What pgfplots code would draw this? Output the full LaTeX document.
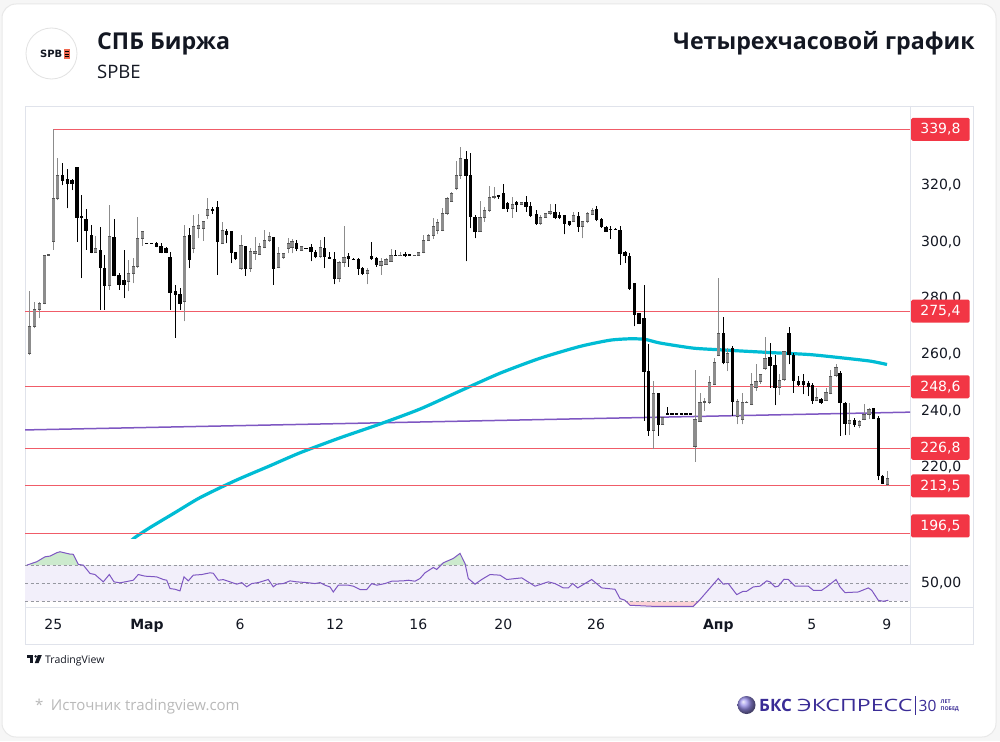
\documentclass[border=0pt]{standalone}
\usepackage{graphicx}
\usepackage{pgfplots}
\pgfplotsset{compat=1.18}
\usepackage{pgfplotstable}
\usepackage{fontspec}
\setmainfont{Open Sans}
\newfontfamily\axf{DejaVu Sans}
\definecolor{redlvl}{RGB}{242,54,69}
\definecolor{redline}{RGB}{240,92,104}
\definecolor{cyanma}{RGB}{0,188,212}
\definecolor{purp}{RGB}{126,87,194}
\definecolor{upc}{RGB}{140,140,140}
\definecolor{upd}{RGB}{85,85,85}
\definecolor{bandc}{RGB}{242,239,250}
\definecolor{gridd}{RGB}{150,152,160}
\definecolor{bks}{RGB}{58,44,150}
\definecolor{bksball}{RGB}{150,140,230}
\definecolor{txt}{RGB}{19,23,34}
\definecolor{panel}{RGB}{224,227,235}
\definecolor{tvc}{RGB}{19,23,34}
\definecolor{pagebg}{RGB}{246,246,246}
\definecolor{cardb}{RGB}{232,232,232}
\definecolor{logob}{RGB}{226,226,226}
\definecolor{logoo}{RGB}{240,105,80}
\definecolor{obfill}{RGB}{204,234,205}
\definecolor{osfill}{RGB}{252,210,214}
\definecolor{srcgray}{RGB}{185,185,185}

\pgfplotstableread{
x o h l c
29.7 260.5 282.4 259.8 270.0
34.7 270.0 278.5 269.3 276.0
39.3 276.0 278.8 272.9 278.2
44.3 278.1 295.4 277.8 295.3
48.3 295.3 295.5 295.2 295.4
53.3 300.0 339.8 297.1 315.3
57.7 315.3 329.7 314.7 323.6
62.7 323.8 328.0 320.0 321.8
67.7 322.1 325.9 311.8 320.6
72.0 321.8 322.4 318.3 320.6
77.0 326.5 326.5 300.0 308.5
81.3 309.2 316.5 287.1 308.5
86.0 308.2 311.6 297.1 304.1
91.3 302.4 305.9 295.9 296.2
95.3 296.2 302.1 296.2 297.6
100.3 297.1 305.3 275.9 290.8
104.7 290.8 295.3 275.9 284.4
109.7 284.4 313.0 283.0 301.8
114.0 301.8 308.2 287.7 288.0
119.0 288.3 288.8 283.0 284.7
124.0 286.5 297.1 280.0 284.7
128.7 286.1 293.6 282.4 288.8
133.3 288.8 294.1 285.3 291.2
137.7 291.2 308.8 290.6 301.2
142.3 301.2 303.8 298.6 303.5
146.7 299.5 299.6 299.2 299.4
151.3 299.5 299.6 299.2 299.4
156.7 299.4 300.0 298.0 298.4
161.0 298.4 299.4 295.9 296.2
166.0 297.9 298.2 295.9 296.2
170.0 294.7 296.5 275.9 282.1
175.3 282.4 284.7 265.9 281.4
180.0 281.4 283.5 275.9 278.2
184.3 278.8 306.1 271.8 301.8
189.3 302.4 305.0 290.6 293.6
193.7 297.6 309.4 295.9 305.3
198.3 304.7 310.0 301.2 305.7
203.3 304.7 307.3 300.3 307.1
207.7 309.4 315.5 308.0 311.6
212.7 311.6 312.4 310.0 311.1
217.3 312.4 314.5 288.3 300.0
222.3 299.4 307.1 299.4 304.1
226.3 303.8 304.5 299.4 302.6
231.3 303.8 303.8 292.4 296.2
235.7 296.2 296.2 293.6 294.1
241.0 290.6 302.4 290.0 298.6
245.7 298.6 298.6 288.0 290.6
250.3 290.6 297.9 289.4 296.5
255.0 295.9 301.5 293.6 296.5
259.3 295.5 299.4 295.5 298.2
264.3 297.9 304.1 297.6 300.6
269.3 300.6 303.5 300.0 301.8
273.7 301.8 301.8 284.7 290.4
278.7 290.8 298.2 290.6 295.9
283.3 294.4 295.8 293.9 295.8
288.3 297.6 301.2 295.9 299.4
292.0 298.0 301.0 295.9 300.0
296.7 299.4 300.6 296.7 297.6
301.7 297.1 298.2 297.1 298.2
306.0 297.7 297.8 297.4 297.6
311.0 298.2 299.1 293.0 296.5
315.7 296.5 297.1 294.1 294.7
320.3 294.7 300.6 294.4 297.9
324.3 297.9 301.8 290.6 294.7
329.3 294.7 296.5 293.9 294.1
334.3 293.8 296.5 284.9 287.1
339.0 287.1 293.2 285.6 292.7
344.0 292.7 305.4 291.2 294.4
348.3 295.1 295.9 291.2 294.1
353.3 294.0 294.2 293.6 293.8
358.3 293.9 294.4 288.3 290.4
362.7 290.6 291.2 288.3 288.8
367.7 288.8 290.8 284.9 290.0
371.7 295.1 300.0 293.6 294.1
376.7 294.4 294.7 291.2 292.0
381.0 291.8 294.1 288.3 293.0
386.0 292.0 294.1 291.8 293.6
391.0 293.2 297.4 293.2 295.3
395.7 295.3 297.1 295.0 295.0
400.0 295.2 296.5 295.0 295.3
405.0 295.5 296.2 294.7 295.3
409.3 295.5 295.6 295.1 295.1
414.3 295.1 295.3 295.0 295.1
418.7 295.3 296.2 295.3 296.2
423.7 296.2 302.4 295.9 300.6
428.3 300.6 302.6 300.3 302.1
433.3 302.1 308.5 301.0 305.3
437.3 304.0 308.2 302.6 306.8
442.7 304.0 311.8 303.8 310.2
447.0 310.2 315.9 309.6 315.3
451.7 314.4 317.7 314.1 317.3
456.7 318.8 328.5 318.3 323.6
460.7 323.6 333.5 322.4 329.4
466.0 329.4 332.0 293.0 323.6
470.7 323.6 331.5 304.7 308.8
475.0 308.8 309.4 301.2 303.5
480.0 303.8 314.4 303.5 308.8
484.7 308.8 312.4 307.1 311.2
489.3 311.0 319.7 310.6 315.9
494.0 315.9 319.4 315.3 316.1
498.3 316.7 316.7 315.3 315.9
503.3 317.1 320.6 311.6 311.8
507.7 313.9 314.1 310.6 311.8
512.7 311.8 315.9 308.5 313.2
516.7 314.1 314.4 310.6 313.2
521.3 313.2 314.1 313.0 313.9
526.0 314.1 316.1 310.6 312.4
530.7 312.7 314.1 308.8 309.2
536.7 310.0 311.2 306.1 306.5
540.7 306.5 309.6 306.1 308.8
545.7 308.8 310.0 308.8 310.0
550.0 310.0 313.2 309.6 310.6
555.0 310.6 313.2 308.0 308.5
559.3 309.6 310.6 308.0 308.5
564.3 309.4 309.4 302.6 306.5
569.3 307.3 307.3 305.7 306.1
573.3 307.3 310.4 307.1 309.2
578.7 309.2 310.6 303.5 305.3
582.7 305.3 307.3 301.2 307.1
587.3 307.1 310.6 306.5 310.0
592.7 309.6 311.8 309.4 311.2
596.7 311.6 312.7 307.3 308.0
601.7 308.0 308.5 305.0 305.3
606.0 305.3 305.7 303.5 303.8
610.7 304.5 305.7 301.0 304.3
615.3 304.6 304.7 304.2 304.5
620.0 304.1 305.7 291.8 295.9
625.0 296.5 296.7 292.4 295.1
629.3 295.1 295.9 283.0 283.5
634.3 285.3 285.3 270.0 274.1
639.0 274.7 274.7 270.8 271.2
644.0 272.9 284.7 236.5 254.1
648.3 254.1 263.8 231.2 233.2
653.3 233.2 250.6 226.5 246.1
658.3 246.5 246.5 231.2 235.3
662.7 235.3 237.9 235.1 237.6
667.3 239.1 241.4 238.9 239.0
672.0 239.1 239.1 238.9 239.0
676.7 239.1 239.1 238.9 239.0
681.3 239.1 239.1 238.9 239.0
686.0 239.1 239.1 238.9 239.0
690.7 239.1 239.1 238.9 239.0
695.0 227.6 254.7 222.1 237.1
700.0 236.5 246.5 236.2 242.9
704.3 242.9 244.7 240.0 243.5
709.3 242.9 252.4 242.6 250.0
714.3 249.6 258.8 249.2 257.4
718.3 259.8 287.1 259.4 267.6
723.3 267.6 273.5 256.5 257.1
727.7 257.1 262.3 254.1 260.6
732.7 262.3 262.9 238.2 243.5
737.7 238.2 244.1 235.3 243.5
742.7 237.1 246.5 235.3 242.9
746.7 242.9 243.5 242.8 243.2
751.7 242.4 253.5 242.1 249.4
756.0 248.5 256.5 247.1 250.6
760.7 250.6 253.2 249.6 253.0
765.0 255.3 266.1 254.7 258.8
770.0 259.1 264.1 248.2 256.1
775.0 256.2 260.0 242.1 248.2
779.3 248.5 253.0 245.6 250.8
784.0 251.2 261.4 250.8 261.2
789.0 267.6 269.7 256.5 260.0
793.3 260.0 260.6 246.5 250.8
798.3 250.6 252.4 248.8 249.6
803.3 250.8 253.0 245.9 249.4
808.3 250.0 250.6 245.3 248.8
812.7 249.2 250.0 242.6 243.8
816.7 243.8 248.0 243.5 244.7
821.0 244.1 244.5 242.6 242.9
826.0 243.8 248.2 243.5 246.5
830.7 246.1 254.4 245.9 252.4
836.0 252.7 256.5 252.0 255.6
840.0 253.5 254.1 231.2 242.9
845.0 242.9 243.3 231.5 235.5
849.3 235.5 242.9 231.5 236.7
854.3 236.7 237.4 234.4 235.1
859.3 235.1 236.7 233.9 236.2
864.0 237.1 242.6 236.7 239.0
869.0 238.8 241.2 237.1 240.6
873.3 241.0 241.2 237.1 237.4
878.3 237.6 238.2 215.5 217.1
882.7 217.1 217.4 214.1 214.3
887.3 213.9 218.8 213.5 216.2
}\candles

\pgfplotstableread{
x r
26.7 70.0
36.7 73.7
45.0 79.2
50.0 80.0
56.7 83.7
60.0 84.8
70.0 82.2
73.3 82.0
78.3 70.8
83.3 70.0
90.0 60.8
95.0 59.6
103.3 51.5
109.3 59.6
114.0 51.5
120.0 50.4
133.3 53.3
138.3 59.6
145.0 57.8
156.7 57.0
163.3 54.1
166.7 53.3
170.0 44.1
175.0 43.3
180.0 41.5
184.0 57.0
188.3 52.6
193.3 58.9
201.7 59.6
210.0 61.5
213.3 61.0
218.3 53.3
223.3 54.0
230.0 51.5
236.7 48.9
241.7 50.7
246.7 46.0
251.7 49.6
258.3 50.7
268.3 54.1
273.3 46.0
276.7 48.9
283.3 49.6
290.0 52.6
296.7 51.5
306.7 50.7
315.0 49.6
320.0 50.7
325.0 47.8
330.0 45.9
333.3 40.3
338.3 47.8
348.3 47.8
353.3 46.7
360.0 43.0
366.7 43.0
371.7 49.6
376.7 47.8
385.0 49.6
391.7 52.2
403.3 52.6
408.3 53.3
415.0 52.2
420.0 55.2
425.0 61.5
433.3 67.4
436.7 65.2
443.3 72.6
453.3 77.4
460.0 83.0
465.0 71.9
468.3 55.2
475.0 48.9
481.7 54.1
490.0 59.6
500.0 58.9
506.7 54.1
521.7 55.9
535.0 46.7
548.3 51.5
555.0 49.6
563.3 44.8
568.3 44.8
572.7 49.6
577.7 44.8
591.7 54.1
601.7 44.8
615.0 43.3
620.0 33.0
625.0 31.1
630.0 25.6
653.3 24.4
666.7 24.4
693.3 24.4
700.0 31.9
718.3 55.2
723.3 48.9
728.3 49.6
736.7 37.4
743.3 41.1
746.7 41.1
753.3 45.9
760.0 46.7
766.7 52.6
770.0 51.5
775.0 45.9
778.3 46.7
784.0 54.4
788.3 54.1
795.0 46.7
808.3 46.7
813.3 42.2
821.7 42.2
826.7 45.9
836.0 54.1
840.0 45.9
845.0 39.6
858.3 40.3
868.3 44.8
871.7 42.2
878.3 31.1
883.3 30.0
888.3 31.1
}\rsidata

\pgfplotsset{nomark/.style={only marks, mark=*, mark size=0pt, mark options={draw=none, fill=none}}}

\begin{document}
\begin{tikzpicture}[x=1pt,y=1pt]
\useasboundingbox (0,0) rectangle (1000,-741);
\fill[pagebg] (0,0) rectangle (1000,-741);
\draw[rounded corners=14pt, draw=cardb, line width=1pt, fill=white] (2,-4) rectangle (996,-737);

% header
\draw[draw=logob, fill=white, line width=0.8pt] (51.5,-53.5) circle (25.5);
\node[anchor=base east, inner sep=0, font=\axf\bfseries\fontsize{10}{10}\selectfont, text=txt] at (62.5,-57.8) {SPB};
\fill[logoo] (63.5,-49.3) rectangle (69.5,-59.3);
\draw[black, line width=0.7pt] (64.5,-51.8) -- (68.5,-51.8) (64.5,-54.3) -- (68.5,-54.3) (64.5,-56.8) -- (68.5,-56.8);
\node[anchor=base west, inner sep=0, text=txt, font=\fontsize{23.2}{27}\selectfont\bfseries] at (97,-49.5) {СПБ Биржа};
\node[anchor=base west, inner sep=0, text=txt, font=\fontsize{18.5}{22}\selectfont] at (97,-79) {SPBE};
\node[anchor=base east, inner sep=0, text=txt, font=\fontsize{23.2}{27}\selectfont\bfseries] at (975,-49.5) {Четырехчасовой график};

% chart panel frame
\draw[panel, line width=0.8pt] (25,-106) rectangle (973,-644);
\draw[panel, line width=0.8pt] (910,-106) -- (910,-644);
\draw[panel, line width=0.8pt] (25,-607.3) -- (973,-607.3);

% ---------------- price pane
\begin{axis}[at={(25pt,-106pt)}, anchor=north west, scale only axis,
  width=885pt, height=432pt,
  xmin=25, xmax=910, ymin=195.0, ymax=348.1,
  axis line style={draw=none}, tick style={draw=none}, major tick length=0pt,
  xtick=\empty,
  ytick={220,240,260,280,300,320},
  yticklabels={220{,}0,240{,}0,260{,}0,280{,}0,300{,}0,320{,}0},
  yticklabel pos=right,
  tick label style={font=\axf\fontsize{14}{16}\selectfont, text=txt},
  yticklabel style={anchor=west, inner sep=0pt, xshift=11pt}]
% moving averages
\addplot[purp, line width=1.5pt] coordinates {(25,233.3) (910,239.6)};
\addplot[cyanma, line width=3.2pt, smooth, tension=0.4] coordinates {
(128,193.0) (135,195.2) (150,198.7) (175,204.0) (200,209.3) (235,215.3) (270,220.6)
(300,225.2) (340,230.5) (380,235.4) (420,240.7) (460,247.1) (500,253.4) (540,258.7)
(580,262.9) (610,265.1) (630,265.6) (645,265.4) (660,264.1) (693,262.3) (720,261.7)
(745,261.2) (777,260.6) (810,260.0) (843,258.8) (870,257.7) (887,256.5)};
% level lines
\addplot[redline, line width=1.1pt] coordinates {(53.3,339.8) (910,339.8)};
\addplot[redline, line width=1.1pt] coordinates {(25,275.4) (910,275.4)};
\addplot[redline, line width=1.1pt] coordinates {(25,248.6) (910,248.6)};
\addplot[redline, line width=1.1pt] coordinates {(25,226.8) (910,226.8)};
\addplot[redline, line width=1.1pt] coordinates {(25,213.5) (910,213.5)};
\addplot[redline, line width=1.1pt] coordinates {(25,196.5) (910,196.5)};
% up candles
\addplot[upc, nomark,
  restrict expr to domain={\thisrow{c}-\thisrow{o}}{0:1000},
  error bars/.cd, y dir=plus, y explicit, error mark=none,
  error bar style={line width=1pt, upc}]
  table[x=x, y=l, y error expr=\thisrow{h}-\thisrow{l}] {\candles};
\addplot[upc, nomark,
  restrict expr to domain={\thisrow{c}-\thisrow{o}}{0:1000},
  error bars/.cd, y dir=plus, y explicit, error mark=none,
  error bar style={line width=3.2pt, upc}]
  table[x=x, y=o, y error expr=\thisrow{c}-\thisrow{o}] {\candles};
\addplot[upd, only marks, mark=-, mark size=1.6pt, mark options={line width=0.7pt},
  restrict expr to domain={\thisrow{c}-\thisrow{o}}{0:1000}]
  table[x=x, y=o] {\candles};
\addplot[upd, only marks, mark=-, mark size=1.6pt, mark options={line width=0.7pt},
  restrict expr to domain={\thisrow{c}-\thisrow{o}}{0:1000}]
  table[x=x, y=c] {\candles};
% down candles
\addplot[black, nomark,
  restrict expr to domain={\thisrow{c}-\thisrow{o}}{-1000:-0.00001},
  error bars/.cd, y dir=plus, y explicit, error mark=none,
  error bar style={line width=1pt, black}]
  table[x=x, y=l, y error expr=\thisrow{h}-\thisrow{l}] {\candles};
\addplot[black, nomark,
  restrict expr to domain={\thisrow{c}-\thisrow{o}}{-1000:-0.00001},
  error bars/.cd, y dir=plus, y explicit, error mark=none,
  error bar style={line width=3.2pt, black}]
  table[x=x, y=c, y error expr=\thisrow{o}-\thisrow{c}] {\candles};
\addplot[black, only marks, mark=-, mark size=1.6pt, mark options={line width=0.8pt},
  restrict expr to domain={\thisrow{c}-\thisrow{o}}{-1000:-0.00001}]
  table[x=x, y=c] {\candles};
\coordinate (b1) at (axis cs:910,339.8);
\coordinate (b2) at (axis cs:910,275.4);
\coordinate (b3) at (axis cs:910,248.6);
\coordinate (b4) at (axis cs:910,226.8);
\coordinate (b5) at (axis cs:910,213.5);
\coordinate (b6) at (axis cs:910,196.5);
\end{axis}

% ---------------- RSI pane
\begin{axis}[at={(25pt,-540pt)}, anchor=north west, scale only axis,
  width=885pt, height=67.3pt,
  xmin=25, xmax=910, ymin=23.33, ymax=97.8,
  axis line style={draw=none}, tick style={draw=none}, major tick length=0pt,
  xtick={53.3,147,240,335,418.3,503.3,596,718.3,811.7,886.7},
  xticklabels={25,\textbf{Мар},6,12,16,20,26,\textbf{Апр},5,9},
  ytick={50}, yticklabels={50{,}00}, yticklabel pos=right,
  tick label style={font=\axf\fontsize{14}{16}\selectfont, text=txt},
  xticklabel style={anchor=base, inner sep=0pt, yshift=-22.3pt},
  yticklabel style={anchor=west, inner sep=0pt, xshift=11pt}]
\addplot[fill=bandc, draw=none] coordinates {(25,30) (910,30) (910,70) (25,70)} -- cycle;
\addplot[fill=obfill, draw=none] table[x=x, y expr={max(\thisrow{r},70)}] {\rsidata} -- cycle;
\addplot[fill=osfill, draw=none] table[x=x, y expr={min(\thisrow{r},30)}] {\rsidata} -- cycle;
\addplot[gridd, dash pattern=on 3pt off 2.5pt, line width=0.7pt] coordinates {(25,70) (910,70)};
\addplot[gridd, dash pattern=on 3pt off 2.5pt, line width=0.7pt] coordinates {(25,50) (910,50)};
\addplot[gridd, dash pattern=on 3pt off 2.5pt, line width=0.7pt] coordinates {(25,30) (910,30)};
\addplot[purp, line width=1pt] table[x=x, y=r] {\rsidata};
\end{axis}

% price level boxes
\tikzset{lvl/.style={fill=redlvl, text=white, anchor=west, minimum width=58.5pt, minimum height=23pt,
  inner sep=0pt, rounded corners=1.5pt, font=\axf\fontsize{14}{16}\selectfont}}
\node[lvl] at ([xshift=1pt]b1) {339,8};
\node[lvl] at ([xshift=1pt]b2) {275,4};
\node[lvl] at ([xshift=1pt]b3) {248,6};
\node[lvl] at ([xshift=1pt]b4) {226,8};
\node[lvl] at ([xshift=1pt]b5) {213,5};
\node[lvl] at ([xshift=1pt,yshift=7.8pt]b6) {196,5};

% TradingView mark
\fill[tvc] (26.5,-655) rectangle (33,-657.6);
\fill[tvc] (30.3,-655) rectangle (33,-663);
\fill[tvc] (35.6,-656.4) circle (1.35);
\fill[tvc] (37.8,-655) -- (41.8,-655) -- (38.6,-663) -- (34.8,-663) -- cycle;
\node[anchor=base west, inner sep=0, text=tvc, font=\fontsize{10.5}{12}\selectfont] at (45,-663) {TradingView};

% footer
\node[anchor=base west, inner sep=0, text=srcgray, font=\fontsize{15}{18}\selectfont] at (35,-710.5) {*\enspace Источник tradingview.com};
\shade[ball color=bksball] (746.5,-705) circle (9);
\node[anchor=base west, inner sep=0, text=bks, font=\fontsize{17}{20}\selectfont\bfseries] at (759,-711) {БКС};
\node[anchor=base west, inner sep=0, text=bks, font=\fontsize{17}{20}\selectfont] at (797,-711) {\scalebox{1.36}[1]{ЭКСПРЕСС}};
\draw[bks, line width=1pt] (915.5,-696) -- (915.5,-715);
\node[anchor=base west, inner sep=0, text=bks, font=\fontsize{15.5}{18}\selectfont] at (918.5,-711) {30};
\node[anchor=west, inner sep=0, align=left, text=bks, font=\fontsize{5.2}{7.5}\selectfont\bfseries] at (940.5,-705.5) {ЛЕТ\\ПОБЕД};
\end{tikzpicture}
\end{document}
